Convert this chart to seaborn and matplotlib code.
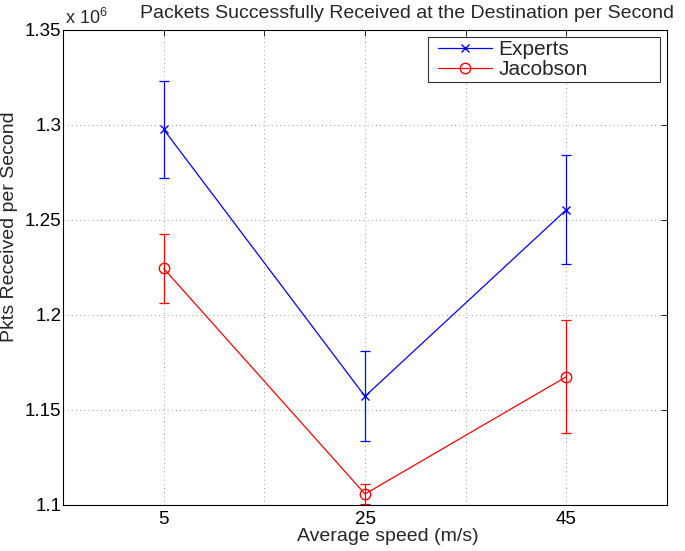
import matplotlib
matplotlib.use("Agg")
import matplotlib.pyplot as plt
import seaborn as sns
import pandas as pd
from matplotlib.lines import Line2D
from matplotlib.legend_handler import HandlerLine2D

speeds = [5, 25, 45]
experts = [1.2977e6, 1.1572e6, 1.2554e6]
experts_err = [0.0256e6, 0.0236e6, 0.0286e6]
jacobson = [1.2245e6, 1.1058e6, 1.1675e6]
jacobson_err = [0.0180e6, 0.0053e6, 0.0298e6]

x_ticks = [5, 15, 25, 35, 45]
x_tick_labels = ["5", "", "25", "", "45"]
y_ticks = [1.10e6, 1.15e6, 1.20e6, 1.25e6, 1.30e6, 1.35e6]
y_tick_labels = ["1.1", "1.15", "1.2", "1.25", "1.3", "1.35"]

sns.set_style("white")
plt.rcParams['font.family'] = ['Liberation Sans', 'DejaVu Sans']
plt.rcParams['mathtext.fontset'] = 'custom'
plt.rcParams['mathtext.rm'] = 'Liberation Sans'
plt.rcParams['mathtext.it'] = 'Liberation Sans'

df = pd.DataFrame({
    "speed": speeds * 2,
    "value": experts + jacobson,
    "series": ["Experts"] * 3 + ["Jacobson"] * 3,
})

fig = plt.figure(figsize=(6.85, 5.51), dpi=100)
ax = fig.add_axes([63 / 685, 1 - 505 / 551, (667 - 63) / 685, (505 - 30) / 551])

colors = {"Experts": (0, 0, 1), "Jacobson": (1, 0, 0)}
markers = {"Experts": "x", "Jacobson": "o"}
msizes = {"Experts": 5.5, "Jacobson": 7.5}
errs = {"Experts": experts_err, "Jacobson": jacobson_err}

for name in ["Experts", "Jacobson"]:
    sub = df[df.series == name]
    sns.lineplot(data=sub, x="speed", y="value", ax=ax, color=colors[name],
                 marker=markers[name], markersize=msizes[name], markerfacecolor="none",
                 markeredgecolor=colors[name], markeredgewidth=1.0,
                 linewidth=0.9, label=name, zorder=3)
    ax.errorbar(sub["speed"], sub["value"], yerr=errs[name], fmt="none",
                ecolor=colors[name], elinewidth=0.9, capsize=3.5, capthick=0.9,
                zorder=2)

ax.set_xlim(-5, 55)
ax.set_ylim(1.10e6, 1.35e6)
ax.set_xticks(x_ticks)
ax.set_xticklabels(x_tick_labels)
ax.set_yticks(y_ticks)
ax.set_yticklabels(y_tick_labels)

ax.grid(True, linestyle=(0, (1, 4)), color="#777777", linewidth=0.6)
ax.tick_params(direction="in", length=4, width=0.6, top=True, right=True,
               labelsize=13.5, colors="black")
ax.tick_params(axis="y", pad=1)
ax.tick_params(axis="x", pad=4)
for s in ax.spines.values():
    s.set_color("black")
    s.set_linewidth(0.8)

ax.set_xlabel("Average speed (m/s)", fontsize=14)
ax.xaxis.set_label_coords((388 - 63) / 604, -0.048)
ax.set_ylabel("Pkts Received per Second", fontsize=14)
ax.yaxis.set_label_coords(-0.0745, (505 - 227) / 475)

handles, labels = ax.get_legend_handles_labels()
top_frac = 1 - 7 / 475
bot_frac = 1 - 53 / 475
leg = ax.legend(handles, labels, loc="upper left",
                bbox_to_anchor=((428 - 63) / 604, bot_frac, (660 - 428) / 604, top_frac - bot_frac),
                mode="expand", fontsize=15,
                frameon=True, fancybox=False, edgecolor="black",
                handlelength=2.93, borderpad=0.15, labelspacing=0.05,
                handletextpad=0.3, borderaxespad=0,
                handler_map={Line2D: HandlerLine2D(xpad=0.34)})
leg.get_frame().set_linewidth(0.8)

fig.text(407 / 685, 1 - 13 / 551, "Packets Successfully Received at the Destination per Second",
         ha="center", va="center", fontsize=14)
fig.text(65 / 685, 1 - 24 / 551, r"x 10$^6$", ha="left", va="baseline", fontsize=13)

fig.savefig("out.png", dpi=100)
